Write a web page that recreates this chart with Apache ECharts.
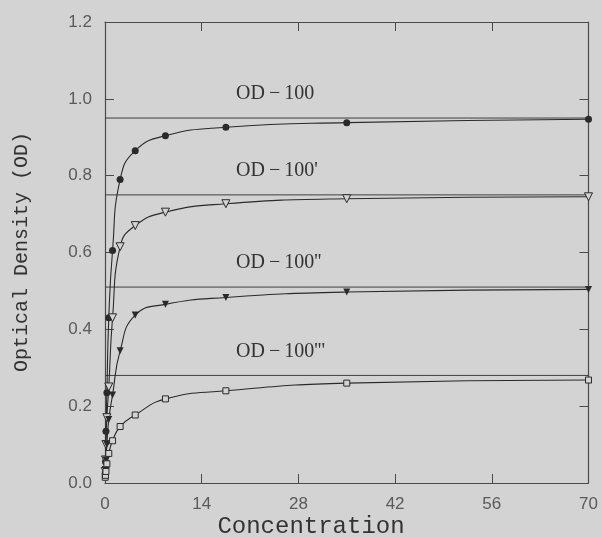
<!DOCTYPE html>
<html>
<head>
<meta charset="utf-8">
<script src="https://cdn.jsdelivr.net/npm/echarts@6/dist/echarts.min.js"></script>
<style>
html,body{margin:0;padding:0;background:#d3d3d3;}
#chart{width:602px;height:537px;}
</style>
</head>
<body>
<div id="chart"></div>
<script>
// ---- data ----
const concentration = [0.034, 0.068, 0.137, 0.273, 0.547, 1.094, 2.188, 4.375, 8.75, 17.5, 35, 70];
const od100    = [0.025, 0.055, 0.135, 0.235, 0.43, 0.605, 0.79, 0.865, 0.904, 0.926, 0.938, 0.947];
const od100p   = [0.03, 0.06, 0.10, 0.17, 0.25, 0.43, 0.615, 0.67, 0.705, 0.727, 0.74, 0.745];
const od100pp  = [0.02, 0.035, 0.06, 0.10, 0.165, 0.229, 0.344, 0.437, 0.465, 0.483, 0.497, 0.504];
const od100ppp = [0.015, 0.02, 0.03, 0.05, 0.077, 0.11, 0.147, 0.177, 0.219, 0.240, 0.26, 0.268];
const plateaus = [0.95, 0.75, 0.51, 0.28];
const plateauLabels = ['OD\u2009\u2212\u2009100', "OD\u2009\u2212\u2009100'", "OD\u2009\u2212\u2009100''", "OD\u2009\u2212\u2009100'''"];
const xTicks = [0, 14, 28, 42, 56, 70];
const yTicks = [0.0, 0.2, 0.4, 0.6, 0.8, 1.0, 1.2];
const xTitle = 'Concentration';
const yTitle = 'Optical Density (OD)';

const BG = '#d3d3d3';
const INK = '#2a2a2a';
const chart = echarts.init(document.getElementById('chart'), null, {renderer: 'canvas'});

function pairs(ys) { return concentration.map((x, i) => [x, ys[i]]); }

const markerDefs = [
  {data: od100,    symbol: 'circle',   size: 7, filled: true,  rot: 0},
  {data: od100p,   symbol: 'triangle', size: 8, filled: false, rot: 180},
  {data: od100pp,  symbol: 'triangle', size: 7, filled: true,  rot: 180},
  {data: od100ppp, symbol: 'rect',     size: 6, filled: false, rot: 0}
];

const series = [];
plateaus.forEach(v => {
  series.push({
    type: 'line', data: [[xTicks[0], v], [xTicks[xTicks.length - 1], v]],
    symbol: 'none', silent: true,
    lineStyle: {color: '#3f3f3f', width: 1}, z: 1
  });
});
markerDefs.forEach(m => {
  series.push({
    type: 'line', data: pairs(m.data), smooth: 0.5,
    symbol: m.symbol, symbolSize: m.size, symbolRotate: m.rot, showSymbol: true,
    lineStyle: {color: INK, width: 1.1},
    itemStyle: {color: m.filled ? INK : BG, borderColor: INK, borderWidth: m.filled ? 0 : 1},
    z: 3
  });
});

function axisBase() {
  return {
    type: 'value', splitLine: {show: false},
    axisLine: {show: true, onZero: false, lineStyle: {color: '#4a4a4a', width: 1.2}},
    axisTick: {show: true, inside: true, length: 9, lineStyle: {color: '#4a4a4a', width: 1}}
  };
}
const labelFont = {color: '#5a5a5a', fontSize: 17, fontFamily: 'Liberation Sans, Arial, sans-serif'};

chart.setOption({
  backgroundColor: BG,
  animation: false,
  grid: {left: 105, right: 13.5, top: 22, bottom: 54, containLabel: false},
  xAxis: [
    Object.assign(axisBase(), {position: 'bottom', min: xTicks[0], max: xTicks[xTicks.length-1], interval: 14,
      axisLabel: Object.assign({margin: 13}, labelFont)}),
    Object.assign(axisBase(), {position: 'top', min: xTicks[0], max: xTicks[xTicks.length-1], interval: 14,
      axisLabel: {show: false}})
  ],
  yAxis: [
    Object.assign(axisBase(), {position: 'left', min: yTicks[0], max: yTicks[yTicks.length-1], interval: 0.2,
      axisLabel: Object.assign({margin: 13, formatter: v => v.toFixed(1)}, labelFont)}),
    Object.assign(axisBase(), {position: 'right', min: yTicks[0], max: yTicks[yTicks.length-1], interval: 0.2,
      axisLabel: {show: false}})
  ],
  series: series
});

// text elements: axis titles and plateau labels
const graphics = [
  {type: 'text', x: 311, y: 527, style: {text: xTitle, fill: '#333', font: '24px "Liberation Mono", monospace', align: 'center', verticalAlign: 'middle'}},
  {type: 'text', x: 22, y: 252, rotation: Math.PI / 2, style: {text: yTitle, fill: '#333', font: '20px "Liberation Mono", monospace', align: 'center', verticalAlign: 'middle'}}
];
plateaus.forEach((v, i) => {
  const py = chart.convertToPixel({yAxisIndex: 0}, v);
  graphics.push({type: 'text', x: 236, y: py - 24,
    style: {text: plateauLabels[i], fill: '#333', font: '20px "Liberation Serif", serif', align: 'left', verticalAlign: 'middle'}});
});
chart.setOption({graphic: graphics});
</script>
</body>
</html>
